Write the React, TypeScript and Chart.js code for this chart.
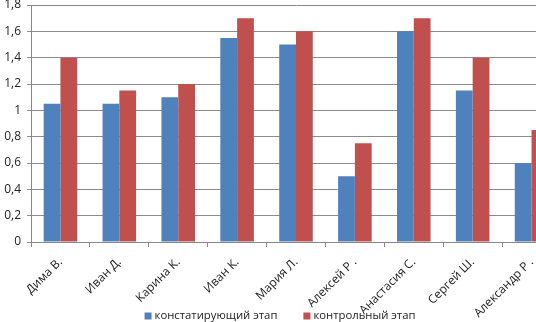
import React, { useEffect, useRef } from "react";
import { Chart, registerables } from "chart.js";

Chart.register(...registerables);

const categories = [
  "Дима В.",
  "Иван Д.",
  "Карина К.",
  "Иван К.",
  "Мария Л.",
  "Алексей Р .",
  "Анастасия С.",
  "Сергей Ш.",
  "Александр Р .",
];
const seriesNames = ["констатирующий этап", "контрольный этап"];
const stage1 = [1.05, 1.05, 1.1, 1.55, 1.5, 0.5, 1.6, 1.15, 0.6];
const stage2 = [1.4, 1.15, 1.2, 1.7, 1.6, 0.75, 1.7, 1.4, 0.85];
const yMax = 1.8;
const yStep = 0.2;

const FONT = "'Open Sans', 'Liberation Sans', sans-serif";

const bottomLegend = {
  id: "bottomLegend",
  afterDraw(chart: any) {
    const ctx = chart.ctx as CanvasRenderingContext2D;
    ctx.save();
    ctx.font = `11.3px ${FONT}`;
    ctx.textBaseline = "middle";
    ctx.textAlign = "left";
    const box = 7;
    const gapText = 3;
    const gapItem = 26;
    const items = chart.data.datasets.map((d: any) => ({
      label: d.label as string,
      color: d.backgroundColor as string,
      w: box + gapText + ctx.measureText(d.label).width,
    }));
    const total = items.reduce((a: number, it: any) => a + it.w, 0) + gapItem * (items.length - 1);
    let x = 280 - total / 2;
    const y = 316;
    items.forEach((it: any) => {
      ctx.fillStyle = it.color;
      ctx.fillRect(x, y - box / 2, box, box);
      ctx.fillStyle = "#222";
      ctx.fillText(it.label, x + box + gapText, y);
      x += it.w + gapItem;
    });
    ctx.restore();
  },
};

export default function App() {
  const ref = useRef<HTMLCanvasElement | null>(null);
  useEffect(() => {
    if (!ref.current) return;
    const chart = new Chart(ref.current, {
      type: "bar",
      data: {
        labels: categories,
        datasets: [
          {
            label: seriesNames[0],
            data: stage1,
            backgroundColor: "#4F81BD",
            borderWidth: 0,
            categoryPercentage: 0.57,
            barPercentage: 1,
          },
          {
            label: seriesNames[1],
            data: stage2,
            backgroundColor: "#C0504D",
            borderWidth: 0,
            categoryPercentage: 0.57,
            barPercentage: 1,
          },
        ],
      },
      plugins: [bottomLegend],
      options: {
        animation: false,
        responsive: false,
        maintainAspectRatio: false,
        layout: { padding: { top: 5, left: 0, right: 0, bottom: 0 } },
        plugins: {
          tooltip: { enabled: false },
          legend: { display: false },
        },
        scales: {
          x: {
            grid: {
              offset: true,
              drawOnChartArea: false,
              drawTicks: true,
              tickLength: 5,
              color: "#888",
            },
            border: { color: "#888" },
            ticks: {
              minRotation: 45,
              maxRotation: 45,
              color: "#222",
              font: { family: FONT, size: 12 },
              padding: 8,
            },
            afterFit: (s: any) => {
              s.height = 80;
              s.paddingLeft = 0;
              s.paddingRight = 0;
            },
          },
          y: {
            min: 0,
            max: yMax,
            ticks: {
              stepSize: yStep,
              color: "#222",
              font: { family: FONT, size: 12 },
              padding: 6,
              callback: (v: any) => String(Number(Number(v).toFixed(1))).replace(".", ","),
            },
            grid: { color: "#8c8c8c", tickLength: 4 },
            border: { color: "#888" },
            afterFit: (s: any) => {
              s.width = 31;
              s.paddingTop = 0;
              s.paddingBottom = 0;
            },
          },
        },
      },
    });
    return () => chart.destroy();
  }, []);
  return (
    <div
      style={{
        position: "absolute",
        left: 0,
        top: 0,
        width: 536,
        height: 322,
        overflow: "hidden",
        background: "#fff",
      }}
    >
      <canvas ref={ref} width={561} height={322} style={{ display: "block" }} />
    </div>
  );
}
